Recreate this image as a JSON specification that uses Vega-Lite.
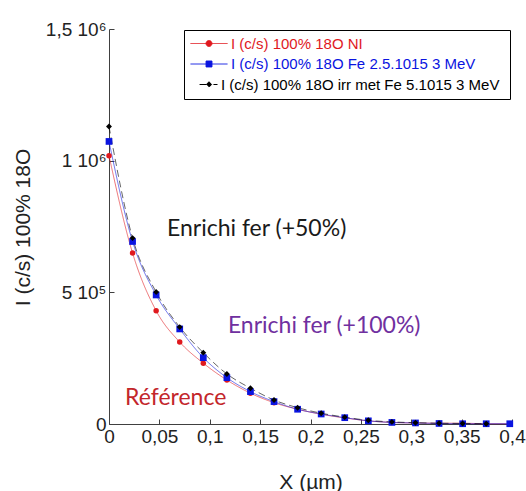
{
  "$schema": "https://vega.github.io/schema/vega-lite/v6.json",
  "width": 403,
  "height": 395,
  "autosize": {"type": "none"},
  "padding": {"left": 109, "top": 29, "right": 14, "bottom": 67},
  "background": "white",
  "config": {
    "view": {"stroke": null},
    "axis": {
      "grid": false,
      "domainColor": "#404040",
      "tickColor": "#404040",
      "labelFont": "Liberation Sans",
      "labelFontSize": 19,
      "labelColor": "#222222",
      "titleFont": "Liberation Sans",
      "titleFontSize": 21,
      "titleFontWeight": "normal",
      "titleColor": "#222222"
    }
  },
  "datasets": {
    "series": [
      {"s": "I (c/s) 100% 18O  NI", "x": 0, "y": 1019000},
      {"s": "I (c/s) 100% 18O  NI", "x": 0.0234, "y": 649000},
      {"s": "I (c/s) 100% 18O  NI", "x": 0.0468, "y": 430000},
      {"s": "I (c/s) 100% 18O  NI", "x": 0.0702, "y": 311000},
      {"s": "I (c/s) 100% 18O  NI", "x": 0.0936, "y": 231000},
      {"s": "I (c/s) 100% 18O  NI", "x": 0.117, "y": 167000},
      {"s": "I (c/s) 100% 18O  NI", "x": 0.1404, "y": 117000},
      {"s": "I (c/s) 100% 18O  NI", "x": 0.1638, "y": 81000},
      {"s": "I (c/s) 100% 18O  NI", "x": 0.1872, "y": 56000},
      {"s": "I (c/s) 100% 18O  NI", "x": 0.2106, "y": 37000},
      {"s": "I (c/s) 100% 18O  NI", "x": 0.234, "y": 23000},
      {"s": "I (c/s) 100% 18O  NI", "x": 0.2574, "y": 12000},
      {"s": "I (c/s) 100% 18O  NI", "x": 0.2808, "y": 6000},
      {"s": "I (c/s) 100% 18O  NI", "x": 0.3042, "y": 4000},
      {"s": "I (c/s) 100% 18O  NI", "x": 0.3276, "y": 3000},
      {"s": "I (c/s) 100% 18O  NI", "x": 0.351, "y": 3000},
      {"s": "I (c/s) 100% 18O  NI", "x": 0.3744, "y": 1000},
      {"s": "I (c/s) 100% 18O  NI", "x": 0.3978, "y": 1000},
      {"s": "I (c/s) 100% 18O Fe 2.5.1015 3 MeV", "x": 0, "y": 1073000},
      {"s": "I (c/s) 100% 18O Fe 2.5.1015 3 MeV", "x": 0.0234, "y": 693000},
      {"s": "I (c/s) 100% 18O Fe 2.5.1015 3 MeV", "x": 0.0468, "y": 490000},
      {"s": "I (c/s) 100% 18O Fe 2.5.1015 3 MeV", "x": 0.0702, "y": 361000},
      {"s": "I (c/s) 100% 18O Fe 2.5.1015 3 MeV", "x": 0.0936, "y": 252000},
      {"s": "I (c/s) 100% 18O Fe 2.5.1015 3 MeV", "x": 0.117, "y": 176000},
      {"s": "I (c/s) 100% 18O Fe 2.5.1015 3 MeV", "x": 0.1404, "y": 123000},
      {"s": "I (c/s) 100% 18O Fe 2.5.1015 3 MeV", "x": 0.1638, "y": 85000},
      {"s": "I (c/s) 100% 18O Fe 2.5.1015 3 MeV", "x": 0.1872, "y": 56000},
      {"s": "I (c/s) 100% 18O Fe 2.5.1015 3 MeV", "x": 0.2106, "y": 38000},
      {"s": "I (c/s) 100% 18O Fe 2.5.1015 3 MeV", "x": 0.234, "y": 24000},
      {"s": "I (c/s) 100% 18O Fe 2.5.1015 3 MeV", "x": 0.2574, "y": 12000},
      {"s": "I (c/s) 100% 18O Fe 2.5.1015 3 MeV", "x": 0.2808, "y": 6000},
      {"s": "I (c/s) 100% 18O Fe 2.5.1015 3 MeV", "x": 0.3042, "y": 4000},
      {"s": "I (c/s) 100% 18O Fe 2.5.1015 3 MeV", "x": 0.3276, "y": 2000},
      {"s": "I (c/s) 100% 18O Fe 2.5.1015 3 MeV", "x": 0.351, "y": 1000},
      {"s": "I (c/s) 100% 18O Fe 2.5.1015 3 MeV", "x": 0.3744, "y": 1000},
      {"s": "I (c/s) 100% 18O Fe 2.5.1015 3 MeV", "x": 0.3978, "y": 1000},
      {"s": "I (c/s) 100% 18O  irr met Fe 5.1015 3 MeV", "x": 0, "y": 1130000},
      {"s": "I (c/s) 100% 18O  irr met Fe 5.1015 3 MeV", "x": 0.0234, "y": 706000},
      {"s": "I (c/s) 100% 18O  irr met Fe 5.1015 3 MeV", "x": 0.0468, "y": 501000},
      {"s": "I (c/s) 100% 18O  irr met Fe 5.1015 3 MeV", "x": 0.0702, "y": 368000},
      {"s": "I (c/s) 100% 18O  irr met Fe 5.1015 3 MeV", "x": 0.0936, "y": 271000},
      {"s": "I (c/s) 100% 18O  irr met Fe 5.1015 3 MeV", "x": 0.117, "y": 190000},
      {"s": "I (c/s) 100% 18O  irr met Fe 5.1015 3 MeV", "x": 0.1404, "y": 136000},
      {"s": "I (c/s) 100% 18O  irr met Fe 5.1015 3 MeV", "x": 0.1638, "y": 91000},
      {"s": "I (c/s) 100% 18O  irr met Fe 5.1015 3 MeV", "x": 0.1872, "y": 62000},
      {"s": "I (c/s) 100% 18O  irr met Fe 5.1015 3 MeV", "x": 0.2106, "y": 41000},
      {"s": "I (c/s) 100% 18O  irr met Fe 5.1015 3 MeV", "x": 0.234, "y": 26000},
      {"s": "I (c/s) 100% 18O  irr met Fe 5.1015 3 MeV", "x": 0.2574, "y": 14000},
      {"s": "I (c/s) 100% 18O  irr met Fe 5.1015 3 MeV", "x": 0.2808, "y": 8000},
      {"s": "I (c/s) 100% 18O  irr met Fe 5.1015 3 MeV", "x": 0.3042, "y": 5000},
      {"s": "I (c/s) 100% 18O  irr met Fe 5.1015 3 MeV", "x": 0.3276, "y": 3000},
      {"s": "I (c/s) 100% 18O  irr met Fe 5.1015 3 MeV", "x": 0.351, "y": 2000},
      {"s": "I (c/s) 100% 18O  irr met Fe 5.1015 3 MeV", "x": 0.3744, "y": 1000}
    ],
    "notes": [
      {"label": "Enrichi fer (+50%)", "x": 0.0576, "y": 741000, "k": "a"},
      {"label": "Enrichi fer (+100%)", "x": 0.118, "y": 373000, "k": "b"},
      {"label": "Référence", "x": 0.0159, "y": 99000, "k": "c"}
    ]
  },
  "layer": [
    {
      "data": {"name": "series"},
      "mark": {"type": "line", "interpolate": "monotone", "strokeWidth": 1, "strokeOpacity": 0.6},
      "encoding": {
        "x": {
          "field": "x", "type": "quantitative",
          "scale": {"domain": [0, 0.4], "nice": false},
          "axis": {
            "title": "X (µm)",
            "values": [0, 0.05, 0.1, 0.15, 0.2, 0.25, 0.3, 0.35, 0.4],
            "labelExpr": "replace(format(datum.value, '.2~f'), '.', ',')",
            "labelFlush": false,
            "tickSize": -5,
            "labelPadding": 8,
            "titleY": 58,
            "titleBaseline": "middle"
          }
        },
        "y": {
          "field": "y", "type": "quantitative",
          "scale": {"domain": [0, 1500000], "nice": false},
          "axis": {
            "title": "I (c/s) 100% 18O",
            "values": [0, 500000, 1000000, 1500000],
            "labelExpr": "datum.value == 0 ? '0' : datum.value == 500000 ? '5 10⁵' : datum.value == 1000000 ? '1 10⁶' : '1,5 10⁶'",
            "labelFlush": false,
            "tickSize": -5,
            "labelPadding": 8,
            "titleX": -86,
            "titleY": 198,
            "titleAngle": -90,
            "titleAlign": "center",
            "titleBaseline": "middle"
          }
        },
        "color": {
          "field": "s", "type": "nominal",
          "scale": {
            "domain": ["I (c/s) 100% 18O  NI", "I (c/s) 100% 18O Fe 2.5.1015 3 MeV", "I (c/s) 100% 18O  irr met Fe 5.1015 3 MeV"],
            "range": ["#e0191e", "#0a14e0", "#000000"]
          },
          "legend": {
            "title": null,
            "orient": "none",
            "legendX": 75,
            "legendY": 1,
            "padding": 6,
            "strokeColor": "#000000",
            "fillColor": "#ffffff",
            "symbolSize": 1369,
            "clipHeight": 15,
            "rowPadding": 4.5,
            "labelOffset": 3,
            "labelFont": "Liberation Sans",
            "labelFontSize": 15,
            "labelLimit": 400,
            "symbolStrokeWidth": 1,
            "encode": {
              "symbols": {
                "update": {
                  "shape": {"signal": "datum.value === 'I (c/s) 100% 18O  NI' ? 'M-1,0H1M-0.16,0A0.16,0.16 0 1 1 0.16,0A0.16,0.16 0 1 1 -0.16,0Z' : datum.value === 'I (c/s) 100% 18O Fe 2.5.1015 3 MeV' ? 'M-1,0H1M-0.16,-0.16H0.16V0.16H-0.16Z' : 'M-0.51,0H-0.08M0.24,0H0.46M0,-0.15L0.14,0L0,0.15L-0.14,0Z'"},
                  "fill": {"scale": "color", "field": "value"},
                  "stroke": {"scale": "color", "field": "value"},
                  "strokeWidth": {"value": 1},
                  "strokeDash": {"value": [1, 0]},
                  "opacity": {"value": 1}
                }
              },
              "labels": {
                "update": {
                  "fill": {"scale": "color", "field": "value"},
                  "dx": {"signal": "datum.value === 'I (c/s) 100% 18O  irr met Fe 5.1015 3 MeV' ? -10 : 0"}
                }
              }
            }
          }
        },
        "strokeDash": {
          "field": "s", "type": "nominal",
          "scale": {
            "domain": ["I (c/s) 100% 18O  NI", "I (c/s) 100% 18O Fe 2.5.1015 3 MeV", "I (c/s) 100% 18O  irr met Fe 5.1015 3 MeV"],
            "range": [[1, 0], [1, 0], [7, 4]]
          },
          "legend": null
        }
      }
    },
    {
      "data": {"name": "series"},
      "transform": [{"filter": "datum.s === 'I (c/s) 100% 18O  NI'"}],
      "mark": {"type": "point", "filled": true, "opacity": 1, "shape": "circle", "size": 30, "color": "#e0191e"},
      "encoding": {
        "x": {"field": "x", "type": "quantitative"},
        "y": {"field": "y", "type": "quantitative"}
      }
    },
    {
      "data": {"name": "series"},
      "transform": [{"filter": "datum.s === 'I (c/s) 100% 18O Fe 2.5.1015 3 MeV'"}],
      "mark": {"type": "point", "filled": true, "opacity": 1, "shape": "square", "size": 45, "color": "#0a14e0"},
      "encoding": {
        "x": {"field": "x", "type": "quantitative"},
        "y": {"field": "y", "type": "quantitative"}
      }
    },
    {
      "data": {"name": "series"},
      "transform": [{"filter": "datum.s === 'I (c/s) 100% 18O  irr met Fe 5.1015 3 MeV'"}],
      "mark": {"type": "point", "filled": true, "opacity": 1, "shape": "diamond", "size": 35, "color": "#000000"},
      "encoding": {
        "x": {"field": "x", "type": "quantitative"},
        "y": {"field": "y", "type": "quantitative"}
      }
    },
    {
      "data": {"name": "notes"},
      "transform": [{"filter": "datum.k === 'a'"}],
      "mark": {"type": "text", "align": "left", "baseline": "middle", "font": "Lato", "fontSize": 23, "color": "#1a1a1a"},
      "encoding": {
        "x": {"field": "x", "type": "quantitative"},
        "y": {"field": "y", "type": "quantitative"},
        "text": {"field": "label"}
      }
    },
    {
      "data": {"name": "notes"},
      "transform": [{"filter": "datum.k === 'b'"}],
      "mark": {"type": "text", "align": "left", "baseline": "middle", "font": "Lato", "fontSize": 23, "color": "#7030a0"},
      "encoding": {
        "x": {"field": "x", "type": "quantitative"},
        "y": {"field": "y", "type": "quantitative"},
        "text": {"field": "label"}
      }
    },
    {
      "data": {"name": "notes"},
      "transform": [{"filter": "datum.k === 'c'"}],
      "mark": {"type": "text", "align": "left", "baseline": "middle", "font": "Lato", "fontSize": 23, "color": "#c3262b"},
      "encoding": {
        "x": {"field": "x", "type": "quantitative"},
        "y": {"field": "y", "type": "quantitative"},
        "text": {"field": "label"}
      }
    }
  ]
}
